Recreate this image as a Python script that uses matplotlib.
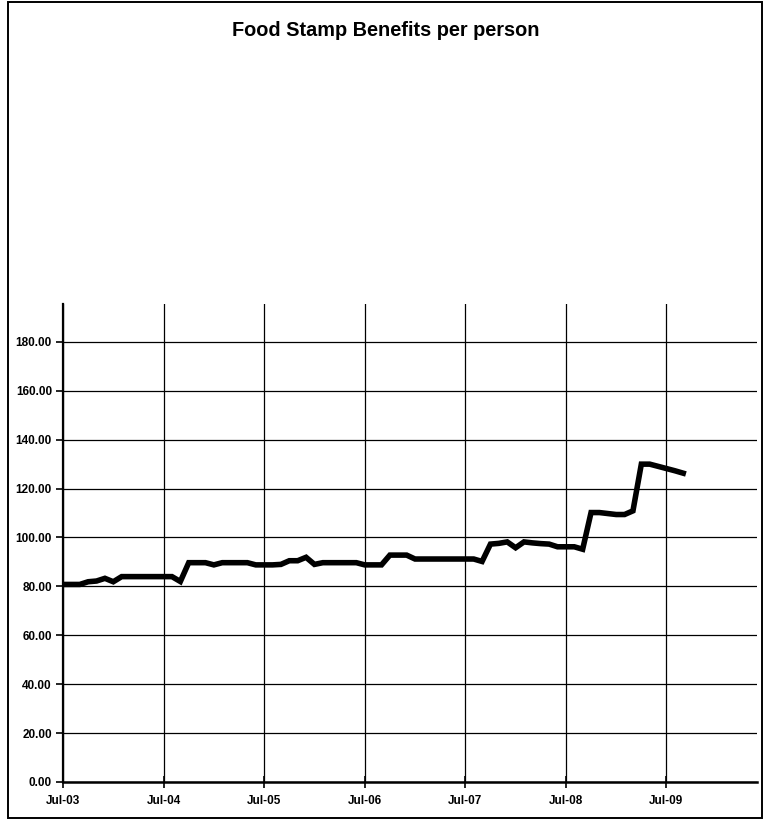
import matplotlib
matplotlib.use("Agg")
import matplotlib.pyplot as plt
from matplotlib.patches import Rectangle

plt.rcParams['font.family'] = ['Liberation Sans', 'DejaVu Sans']

title = "Food Stamp Benefits per person"
tick_labels = ["Jul-03", "Jul-04", "Jul-05", "Jul-06", "Jul-07", "Jul-08", "Jul-09"]
tick_months = [0, 12, 24, 36, 48, 60, 72]
y_ticks = [0, 20, 40, 60, 80, 100, 120, 140, 160, 180]

# monthly values, Jul-03 .. Sep-09
benefits = [
    80.8, 80.8, 80.8, 81.9, 82.2, 83.3, 81.9, 84.0, 84.0, 84.0, 84.0, 84.0,   # Jul-03..Jun-04
    84.0, 84.0, 82.0, 89.7, 89.7, 89.7, 88.8, 89.7, 89.7, 89.7, 89.7, 88.8,   # Jul-04..Jun-05
    88.8, 88.8, 89.0, 90.5, 90.5, 91.9, 89.0, 89.7, 89.7, 89.7, 89.7, 89.7,   # Jul-05..Jun-06
    88.8, 88.8, 88.8, 92.8, 92.8, 92.8, 91.2, 91.2, 91.2, 91.2, 91.2, 91.2,   # Jul-06..Jun-07
    91.2, 91.2, 90.2, 97.3, 97.6, 98.2, 95.8, 98.2, 97.8, 97.5, 97.3, 96.2,   # Jul-07..Jun-08
    96.2, 96.2, 95.2, 110.2, 110.2, 109.8, 109.4, 109.4, 110.9, 130.0, 130.0, 129.1,  # Jul-08..Jun-09
    128.2, 127.3, 126.3,                                                      # Jul-09..Sep-09
]
months = list(range(len(benefits)))

W, H = 763, 819
fig = plt.figure(figsize=(W / 100, H / 100), dpi=100)
fig.patch.set_facecolor("white")

left, right, bottom, top = 63, 757, 782, 304
ax = fig.add_axes([left / W, (H - bottom) / H, (right - left) / W, (bottom - top) / H])
ax.set_xlim(0, 82.8)
ax.set_ylim(0, 195.5)

ax.plot(months, benefits, color="black", lw=4.0, solid_joinstyle="miter", zorder=3)

ax.set_yticks(y_ticks)
ax.set_yticklabels([f"{v:.2f}" for v in y_ticks])
ax.set_xticks(tick_months)
ax.set_xticklabels(tick_labels)

for lab in ax.get_xticklabels() + ax.get_yticklabels():
    lab.set_fontweight("bold")
    lab.set_fontsize(8.5)

ax.tick_params(axis="y", direction="out", length=5, width=1.2, pad=3)
ax.tick_params(axis="x", direction="inout", length=8, width=1.2, pad=5.5)

ax.grid(True, color="black", lw=0.9)
ax.set_axisbelow(True)
for s in ["top", "right"]:
    ax.spines[s].set_visible(False)
ax.spines["left"].set_linewidth(1.6)
ax.spines["bottom"].set_linewidth(1.8)

fig.text(386 / W, 1 - 30 / H, title, ha="center", va="center",
         fontsize=14.3, fontweight="bold")

fig.patches.append(Rectangle((8 / W, 1 / H), (762 - 8) / W, (817 - 1) / H,
                             transform=fig.transFigure, fill=False,
                             edgecolor="black", lw=1.4))

fig.savefig("out.png", dpi=100)
